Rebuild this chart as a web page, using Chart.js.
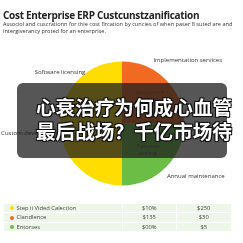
<!DOCTYPE html>
<html><head><meta charset="utf-8">
<script src="https://cdn.jsdelivr.net/npm/chart.js@4.4.1/dist/chart.umd.min.js"></script>
<style>
html,body{margin:0;padding:0;width:243px;height:243px;overflow:hidden;background:#fff;font-family:"Open Sans",sans-serif;}
#wrap{position:relative;width:243px;height:243px;}
#c{position:absolute;left:0;top:0;}
#title{position:absolute;left:3px;top:8px;font:bold 10px "Open Sans",sans-serif;color:#222;white-space:nowrap;letter-spacing:-0.3px;}
#sub{position:absolute;left:3px;top:21px;font:5.6px/7px "Open Sans",sans-serif;color:#333;width:240px;}
#ov{position:absolute;left:17px;top:83px;width:210px;height:75px;border-radius:6px;background:rgba(30,30,30,0.75);}
.cn{position:absolute;left:36px;font:bold 19.6px/1 "Noto Sans CJK SC",sans-serif;color:#fff;white-space:nowrap;
 text-shadow:-1px -1px 0 #111,1px -1px 0 #111,-1px 1px 0 #111,1px 1px 0 #111,0 0 2px #000;}
#tbl{position:absolute;left:4px;top:204px;border-collapse:separate;border-spacing:1.5px 1.5px;margin:-1.5px;}
#tbl td{background:#eef6e9;height:8.5px;padding:0;font:5.8px "Open Sans",sans-serif;color:#444;}
#tbl td.n{text-align:center;}
.dot{display:inline-block;width:4px;height:4px;border-radius:50%;margin:0 3px 0 6px;vertical-align:-0.3px;}
</style></head>
<body><div id="wrap">
<canvas id="c" width="243" height="243"></canvas>
<div id="title">Cost Enterprise ERP Custcunstzanification</div>
<div id="sub">Associol and cuscrationn for thie cost fircation by cuncies of when paser 8 suted are and intergiverancy proted for an enterprise.</div>
<div id="ov"></div>
<div class="cn" id="cn1" style="top:97px"></div>
<div class="cn" id="cn2" style="top:121px"></div>
<table id="tbl"></table>
</div>
<script>
// ---- data ----
const categories = ["Implementation services", "Annual maintenance", "Custom development", "Software licensing"];
const shares = [25, 25, 25, 25];
const sliceColors = ["#f26a22", "#6cbd45", "#ffdd00", "#ffdd00"];
const innerLabels = [["Southcare", "sering"], ["Paisyme", "soring"], [], []];
const tableNames = ["Step ii Vided Calection", "Clandlence", "Entorses"];
const tableCol2 = ["$10%", "$135", "$00%"];
const tableCol3 = ["$250", "$30", "$5"];
const tableDots = ["#ffdd00", "#f26a22", "#6cbd45"];
const captionLines = ["心衰治疗为何成心血管", "最后战场？千亿市场待"];

// ---- label placement (relative to pie centre, in radii) ----
const outerPlace = [
  {dx: 1.06, dy: -1.02, align: "center"},
  {dx: 1.19, dy: 0.85, align: "center"},
  {dx: -1.95, dy: 0.15, align: "left"},
  {dx: -1.0, dy: -0.83, align: "center"}
];
const innerPlace = [{dx: 0.45, dy: -0.45}, {dx: 0.42, dy: 0.43}, null, null];

document.getElementById("cn1").textContent = captionLines[0];
document.getElementById("cn2").textContent = captionLines[1];
const tb = document.getElementById("tbl");
const widths = [118, 53.5, 53.5];
tableNames.forEach((n, i) => {
  const tr = document.createElement("tr");
  const a = document.createElement("td"); a.style.width = widths[0] + "px";
  a.innerHTML = '<span class="dot" style="background:' + tableDots[i] + '"></span>' + n;
  const b = document.createElement("td"); b.className = "n"; b.style.width = widths[1] + "px"; b.textContent = tableCol2[i];
  const c = document.createElement("td"); c.className = "n"; c.style.width = widths[2] + "px"; c.textContent = tableCol3[i];
  tr.append(a, b, c); tb.appendChild(tr);
});

const labelPlugin = {
  id: "labels",
  afterDatasetsDraw(chart) {
    const ctx = chart.ctx;
    const arc = chart.getDatasetMeta(0).data[0];
    const cx = arc.x, cy = arc.y, R = arc.outerRadius;
    ctx.save();
    ctx.textBaseline = "middle";
    ctx.font = '6px "Open Sans", sans-serif';
    ctx.fillStyle = "#333";
    categories.forEach((name, i) => {
      const p = outerPlace[i];
      ctx.textAlign = p.align;
      ctx.fillText(name, cx + p.dx * R, cy + p.dy * R);
    });
    ctx.textAlign = "center";
    ctx.fillStyle = "#555";
    innerLabels.forEach((lines, i) => {
      const p = innerPlace[i];
      if (!p) return;
      lines.forEach((t, k) => ctx.fillText(t, cx + p.dx * R, cy + p.dy * R + (k - (lines.length - 1) / 2) * 7));
    });
    ctx.restore();
  }
};

new Chart(document.getElementById("c"), {
  type: "pie",
  data: { labels: categories, datasets: [{ data: shares, backgroundColor: sliceColors, borderWidth: 0 }] },
  options: {
    responsive: false, animation: false, devicePixelRatio: 1,
    layout: { padding: { top: 61.5, bottom: 57.5, left: 60, right: 59 } },
    plugins: { legend: { display: false }, tooltip: { enabled: false }, title: { display: false } }
  },
  plugins: [labelPlugin]
});
</script>
</body></html>
